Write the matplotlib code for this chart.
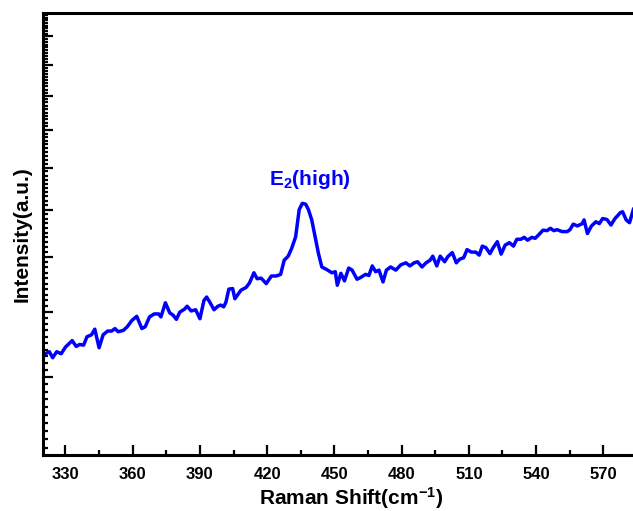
import matplotlib
matplotlib.use("Agg")
import matplotlib.pyplot as plt
from matplotlib.ticker import FixedLocator, MultipleLocator, NullFormatter
import numpy as np

# Raman spectrum
shift = [319.8, 322.8, 324.3, 326.1, 328.1, 330.0, 333.0, 334.8, 336.3, 338.1,
         339.6, 341.6, 343.1, 345.0, 346.8, 348.8, 350.6, 352.1, 353.5, 355.8,
         357.6, 359.6, 361.8, 364.1, 365.6, 367.5, 369.6, 371.6, 372.6, 374.6,
         376.5, 378.0, 379.5, 381.0, 383.1, 384.3, 386.1, 388.1, 390.0, 391.8,
         393.0, 394.4, 396.3, 398.0, 399.3, 400.6, 401.6, 402.9, 404.6, 405.6,
         408.3, 410.6, 412.1, 414.1, 415.5, 417.3, 419.6, 421.9, 424.1, 426.0,
         427.6, 429.4, 430.9, 432.7, 433.6, 434.3, 435.7, 437.2, 438.4, 439.9,
         441.4, 442.9, 444.4, 446.6, 448.9, 450.4, 451.3, 452.9, 454.5, 456.4,
         457.9, 460.1, 461.6, 463.9, 465.4, 466.9, 468.4, 469.9, 471.7, 473.2,
         475.1, 477.4, 479.6, 481.9, 483.7, 485.6, 487.1, 489.1, 490.9, 492.7,
         493.9, 495.7, 497.2, 499.2, 500.6, 502.6, 504.4, 505.9, 507.7, 509.2,
         511.1, 513.1, 514.6, 516.0, 517.6, 519.4, 520.9, 522.7, 524.4, 526.2,
         528.1, 529.9, 531.4, 533.2, 534.7, 536.2, 538.1, 539.6, 541.1, 543.1,
         544.9, 546.4, 547.9, 549.4, 551.6, 553.9, 555.1, 556.6, 558.4, 560.6,
         561.4, 562.9, 564.7, 566.7, 568.2, 569.7, 571.6, 573.4, 575.2, 577.6,
         578.6, 580.2, 581.7, 583.5, 585.4]
intensity = [5.32, 5.37, 5.28, 5.37, 5.34, 5.44, 5.54, 5.45, 5.48, 5.47,
             5.60, 5.63, 5.72, 5.43, 5.63, 5.69, 5.69, 5.73, 5.68, 5.70,
             5.76, 5.86, 5.93, 5.73, 5.76, 5.92, 5.97, 5.97, 5.92, 6.16,
             5.99, 5.95, 5.88, 6.00, 6.05, 6.10, 6.02, 6.04, 5.89, 6.20,
             6.26, 6.17, 6.04, 6.10, 6.12, 6.09, 6.17, 6.40, 6.41, 6.23,
             6.38, 6.43, 6.51, 6.70, 6.59, 6.60, 6.50, 6.64, 6.64, 6.67,
             6.94, 7.02, 7.17, 7.41, 7.73, 8.00, 8.14, 8.12, 8.00, 7.77,
             7.41, 7.07, 6.81, 6.76, 6.70, 6.72, 6.47, 6.69, 6.55, 6.79,
             6.75, 6.58, 6.61, 6.67, 6.65, 6.83, 6.72, 6.75, 6.53, 6.75,
             6.81, 6.75, 6.85, 6.89, 6.83, 6.89, 6.91, 6.81, 6.89, 6.94,
             7.02, 6.83, 7.02, 6.91, 7.01, 7.09, 6.89, 6.96, 6.99, 7.15,
             7.10, 7.10, 7.04, 7.22, 7.19, 7.07, 7.19, 7.31, 7.06, 7.24,
             7.29, 7.22, 7.36, 7.36, 7.40, 7.34, 7.40, 7.38, 7.45, 7.55,
             7.54, 7.59, 7.54, 7.56, 7.52, 7.52, 7.56, 7.68, 7.64, 7.69,
             7.77, 7.48, 7.64, 7.73, 7.69, 7.80, 7.78, 7.66, 7.80, 7.93,
             7.95, 7.77, 7.71, 8.02, 7.88]

plt.rcParams['font.family'] = ['Liberation Sans', 'DejaVu Sans']
plt.rcParams['font.weight'] = 'bold'
plt.rcParams['mathtext.default'] = 'regular'

fig = plt.figure(figsize=(6.33, 5.11), dpi=100)
ax = fig.add_axes([0.068, 0.1096, 0.94, 0.865])

ax.plot(shift, intensity, color='#0000ff', linewidth=2.5)

ax.set_yscale('log')
ax.set_xlim(320, 585.5)
ax.set_ylim(4.02, 13.88)

# x axis ticks
ax.xaxis.set_major_locator(MultipleLocator(30))
ax.xaxis.set_minor_locator(MultipleLocator(15))
ax.tick_params(axis='x', which='both', direction='in', top=False, width=1.6,
               labelsize=12, pad=9)
ax.tick_params(axis='x', which='major', length=7)
ax.tick_params(axis='x', which='minor', length=3.5)

# y axis: log ticks without labels
major_y = np.arange(5, 14)
minor_y = [round(v, 1) for v in np.arange(4.1, 13.9, 0.1) if abs(v - round(v)) > 0.01]
ax.yaxis.set_major_locator(FixedLocator(major_y))
ax.yaxis.set_minor_locator(FixedLocator(minor_y))
ax.yaxis.set_major_formatter(NullFormatter())
ax.yaxis.set_minor_formatter(NullFormatter())
ax.tick_params(axis='y', which='both', direction='in', right=False, width=1.6)
ax.tick_params(axis='y', which='major', length=7)
ax.tick_params(axis='y', which='minor', length=3.5)

for side in ['left', 'bottom', 'top']:
    ax.spines[side].set_linewidth(2.2)
ax.spines['right'].set_visible(False)

ax.set_xlabel(r'Raman Shift(cm$^{-1}$)', fontsize=15, fontweight='bold')
ax.xaxis.set_label_coords(0.518, -0.068)
ax.set_ylabel('Intensity(a.u.)', fontsize=15, fontweight='bold', labelpad=5)

ax.text(439, 8.7, r'E$_2$(high)', color='#0000ff', fontsize=15,
        fontweight='bold', ha='center', va='center')

fig.savefig('out.png', dpi=100)
